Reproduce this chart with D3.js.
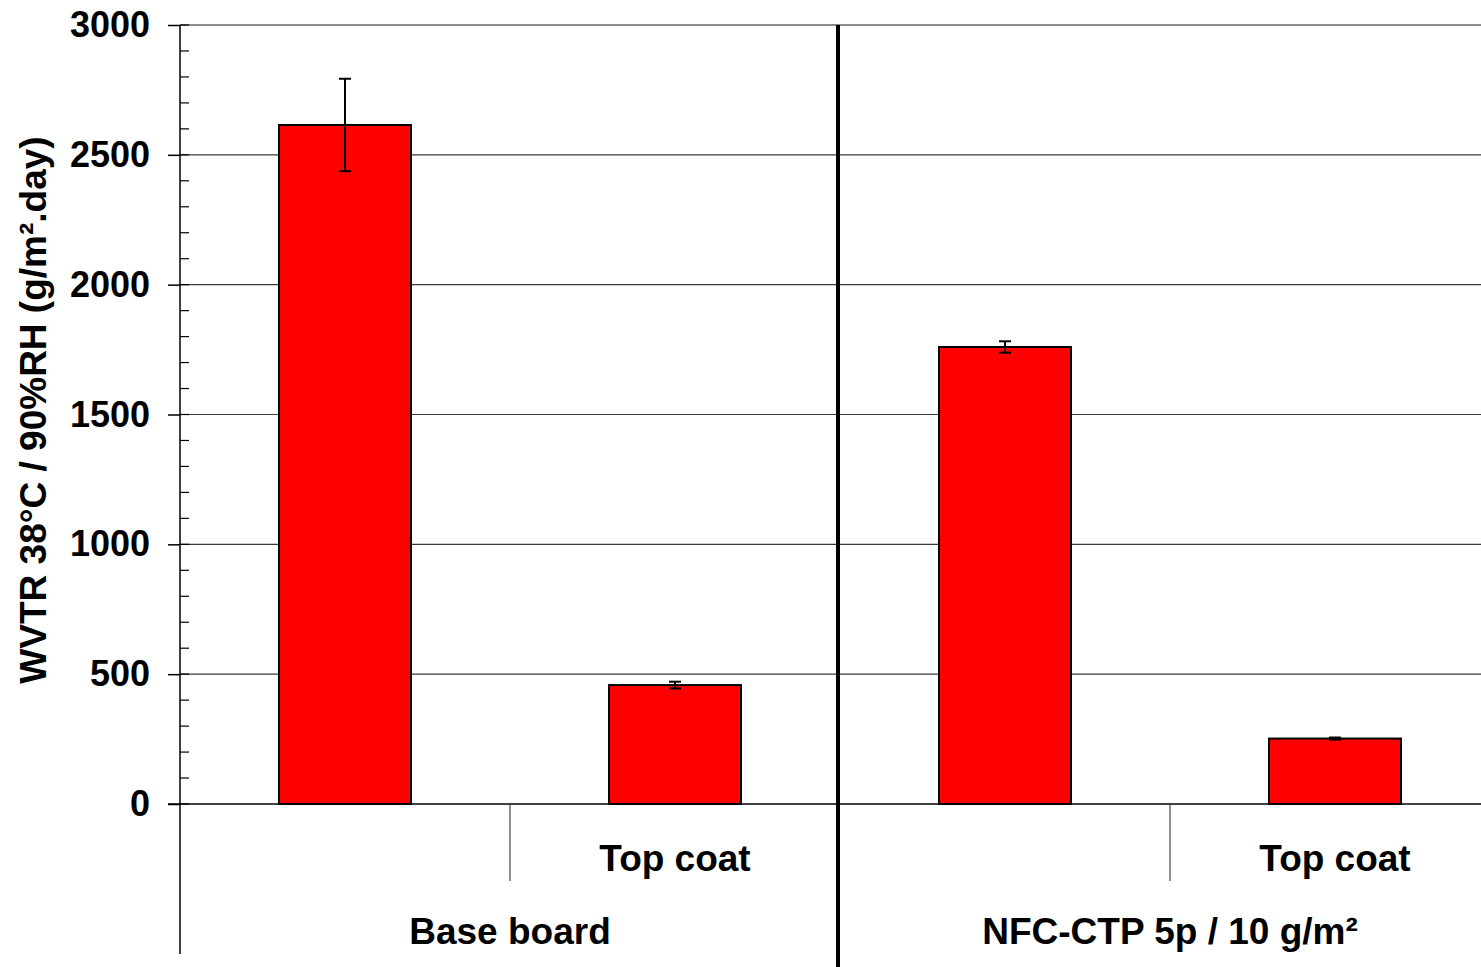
<!DOCTYPE html>
<html>
<head>
<meta charset="utf-8">
<script src="https://cdn.jsdelivr.net/npm/d3@7/dist/d3.min.js"></script>
<style>
  html, body { margin: 0; padding: 0; background: #fff; }
  svg { display: block; }
  text { font-family: "Liberation Sans", Arial, sans-serif; font-weight: bold; fill: #000; }
</style>
</head>
<body>
<svg id="chart" width="1481" height="967"></svg>
<script>
// WVTR at 38°C / 90% RH for base board and NFC-CTP coated board
const groups = ["Base board", "NFC-CTP 5p / 10 g/m²"];
const categories = ["bb", "bb-top", "nfc", "nfc-top"];
const categoryGroup = ["Base board", "Base board", "NFC-CTP 5p / 10 g/m²", "NFC-CTP 5p / 10 g/m²"];
const categoryLabels = ["", "Top coat", "", "Top coat"];
const values = [2615, 458, 1760, 252];
const errors = [178, 13, 22, 4];
const yTicks = [0, 500, 1000, 1500, 2000, 2500, 3000];
const yLabel = "WVTR 38°C / 90%RH (g/m².day)";

const svg = d3.select("#chart");
const plotLeft = 180, plotRight = 1500, plotTop = 25, plotBottom = 804;

const x = d3.scaleBand().domain(categories).range([plotLeft, plotRight]).padding(0);
const y = d3.scaleLinear().domain([0, 3000]).range([plotBottom, plotTop]);
const barW = x.bandwidth() * 0.4;

// horizontal gridlines
svg.append("g").selectAll("line")
  .data(yTicks.filter(t => t > 0))
  .join("line")
  .attr("x1", plotLeft).attr("x2", plotRight)
  .attr("y1", d => y(d)).attr("y2", d => y(d))
  .attr("stroke", d => d === 3000 ? "#8c8c8c" : "#3a3a3a")
  .attr("stroke-width", d => d === 3000 ? 2 : 1.2);

// y axis with major ticks and labels
const yAxis = d3.axisLeft(y).tickValues(yTicks).tickSize(12).tickPadding(18).tickFormat(d3.format("d"));
const ya = svg.append("g").attr("transform", `translate(${plotLeft},0)`).call(yAxis);
ya.select(".domain").remove();
ya.selectAll(".tick line").attr("stroke", "#000").attr("stroke-width", 1.5);
ya.selectAll(".tick text")
  .attr("font-size", 36).attr("font-weight", "bold")
  .attr("font-family", "Liberation Sans, Arial, sans-serif")
  .attr("fill", "#000");

// minor ticks inside the plot
const minor = d3.range(0, 3001, 100);
svg.append("g").selectAll("line")
  .data(minor)
  .join("line")
  .attr("x1", plotLeft).attr("x2", plotLeft + 9)
  .attr("y1", d => y(d)).attr("y2", d => y(d))
  .attr("stroke", "#000").attr("stroke-width", 1.2);

// bars
svg.append("g").selectAll("rect")
  .data(values)
  .join("rect")
  .attr("x", (d, i) => x(categories[i]) + (x.bandwidth() - barW) / 2)
  .attr("y", d => y(d))
  .attr("width", barW)
  .attr("height", d => y(0) - y(d))
  .attr("fill", "#ff0000")
  .attr("stroke", "#000")
  .attr("stroke-width", 2);

// error bars
const eb = svg.append("g").attr("stroke", "#000").attr("stroke-width", 2);
values.forEach((v, i) => {
  const cx = x(categories[i]) + x.bandwidth() / 2;
  const lo = y(v - errors[i]), hi = y(v + errors[i]);
  eb.append("line").attr("x1", cx).attr("x2", cx).attr("y1", lo).attr("y2", hi);
  eb.append("line").attr("x1", cx - 6).attr("x2", cx + 6).attr("y1", lo).attr("y2", lo);
  eb.append("line").attr("x1", cx - 6).attr("x2", cx + 6).attr("y1", hi).attr("y2", hi);
});

// baseline
svg.append("line")
  .attr("x1", plotLeft - 12).attr("x2", plotRight)
  .attr("y1", y(0)).attr("y2", y(0))
  .attr("stroke", "#000").attr("stroke-width", 1.5);

// left axis line
svg.append("line")
  .attr("x1", plotLeft).attr("x2", plotLeft)
  .attr("y1", plotTop).attr("y2", 954)
  .attr("stroke", "#000").attr("stroke-width", 1.5);

// separators between categories within each group
categories.forEach((c, i) => {
  if (i % 2 === 1) {
    svg.append("line")
      .attr("x1", x(c)).attr("x2", x(c))
      .attr("y1", y(0)).attr("y2", 881)
      .attr("stroke", "#444").attr("stroke-width", 1.2);
  }
});

// group divider
const groupEdge = x(categories[2]) - 2;
svg.append("line")
  .attr("x1", groupEdge).attr("x2", groupEdge)
  .attr("y1", plotTop).attr("y2", 967)
  .attr("stroke", "#000").attr("stroke-width", 4);

// category labels
svg.append("g").selectAll("text")
  .data(categoryLabels)
  .join("text")
  .attr("x", (d, i) => x(categories[i]) + x.bandwidth() / 2)
  .attr("y", 871)
  .attr("text-anchor", "middle")
  .attr("font-size", 37)
  .text(d => d);

// group labels
svg.append("g").selectAll("text")
  .data(groups)
  .join("text")
  .attr("x", g => {
    const idx = categories.filter((c, i) => categoryGroup[i] === g).map(c => x(c));
    return (d3.min(idx) + d3.max(idx) + x.bandwidth()) / 2;
  })
  .attr("y", 944)
  .attr("text-anchor", "middle")
  .attr("font-size", 37)
  .text(d => d);

// y axis title
svg.append("text")
  .attr("transform", "translate(46,410) rotate(-90)")
  .attr("text-anchor", "middle")
  .attr("font-size", 37)
  .text(yLabel);
</script>
</body>
</html>
